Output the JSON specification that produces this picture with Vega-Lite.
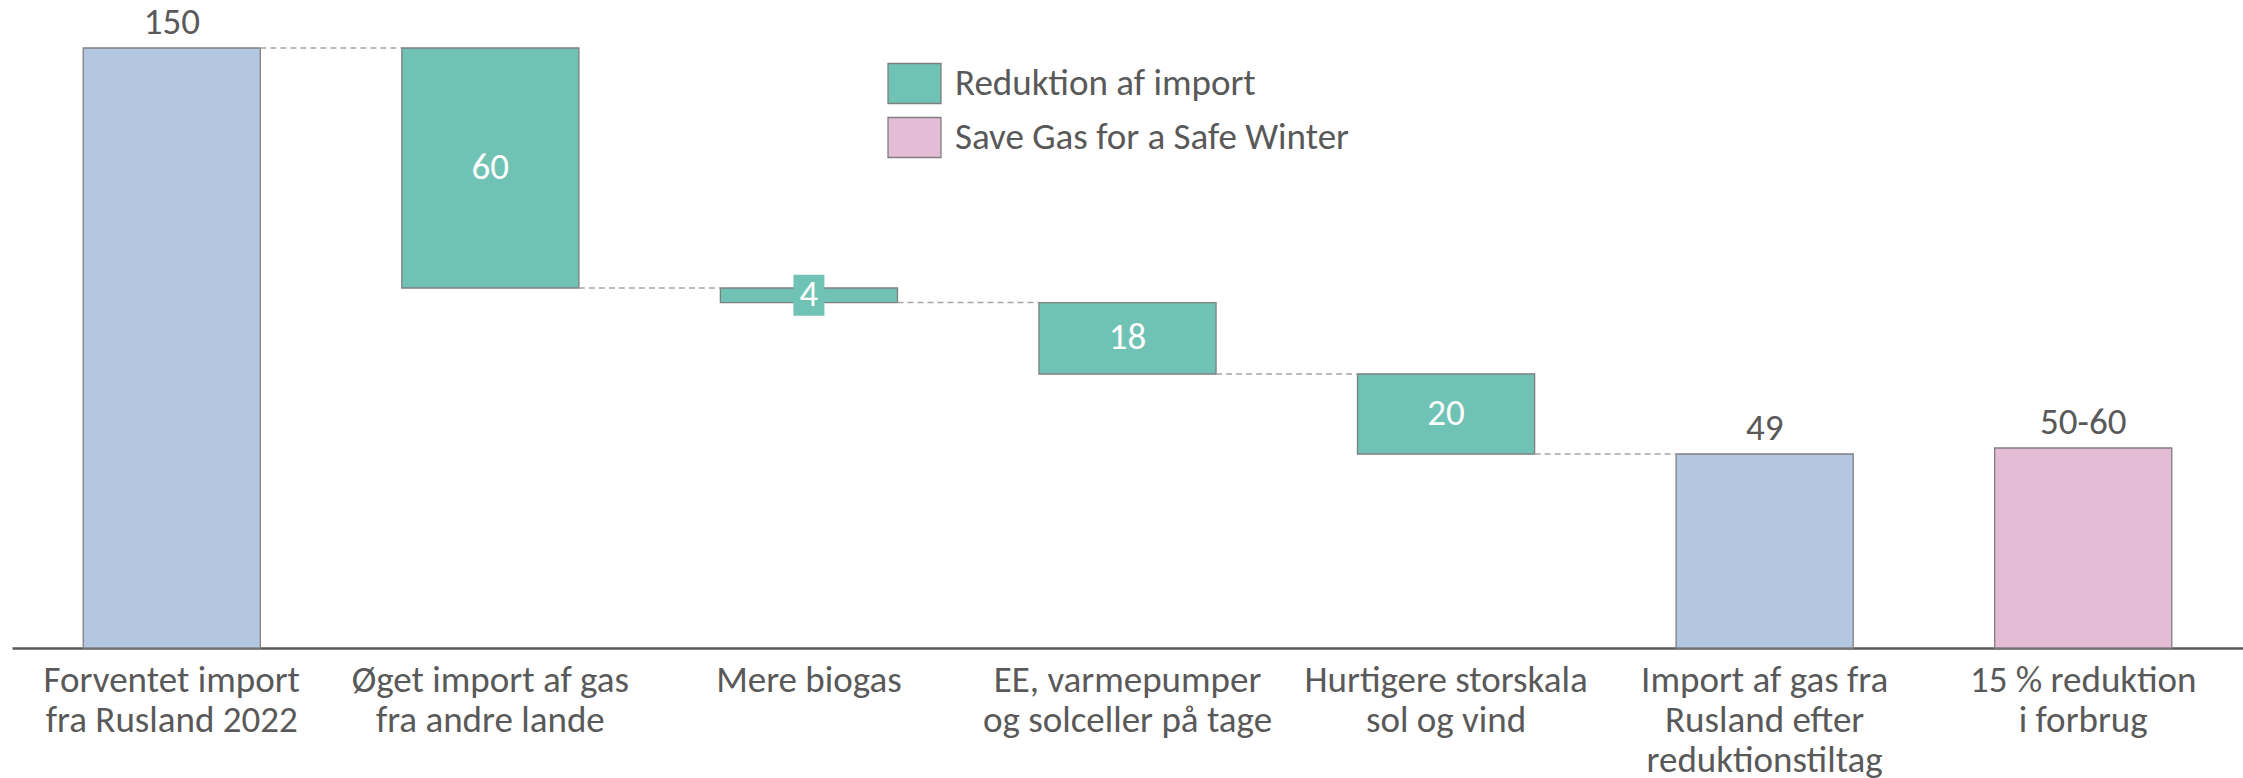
{
  "$schema": "https://vega.github.io/schema/vega-lite/v6.json",
  "autosize": "none",
  "width": 2231,
  "height": 600,
  "padding": {"left": 12, "top": 48, "right": 0, "bottom": 130},
  "background": "white",
  "config": {
    "view": {"stroke": null},
    "font": "Calibri, Carlito, Lato, sans-serif"
  },
  "data": {
    "values": [
      {"category": "Forventet import|fra Rusland 2022", "start": 0, "end": 150, "label": "150", "type": "Import fra Rusland", "next": "Øget import af gas|fra andre lande"},
      {"category": "Øget import af gas|fra andre lande", "start": 150, "end": 90, "label": "60", "type": "Reduktion af import", "next": "Mere biogas"},
      {"category": "Mere biogas", "start": 90, "end": 86.35, "label": "4", "type": "Reduktion af import", "next": "EE, varmepumper|og solceller på tage"},
      {"category": "EE, varmepumper|og solceller på tage", "start": 86.35, "end": 68.5, "label": "18", "type": "Reduktion af import", "next": "Hurtigere storskala|sol og vind"},
      {"category": "Hurtigere storskala|sol og vind", "start": 68.5, "end": 48.5, "label": "20", "type": "Reduktion af import", "next": "Import af gas fra|Rusland efter|reduktionstiltag"},
      {"category": "Import af gas fra|Rusland efter|reduktionstiltag", "start": 0, "end": 48.5, "label": "49", "type": "Import fra Rusland", "next": ""},
      {"category": "15 % reduktion|i forbrug", "start": 0, "end": 50, "label": "50-60", "type": "Save Gas for a Safe Winter", "next": ""}
    ]
  },
  "layer": [
    {
      "mark": {"type": "bar", "stroke": "#7F7F7F", "strokeWidth": 1.3},
      "encoding": {
        "x": {
          "field": "category",
          "type": "nominal",
          "sort": null,
          "scale": {"paddingInner": 0.444, "paddingOuter": 0.2235},
          "axis": {
            "title": null,
            "labelAngle": 0,
            "labelExpr": "split(datum.label, '|')",
            "labelFontSize": 37,
            "labelLineHeight": 40,
            "labelColor": "#595959",
            "labelPadding": 14,
            "labelBaseline": "top",
            "labelLimit": 400,
            "ticks": false,
            "domainColor": "#595959",
            "domainWidth": 2.5,
            "grid": false
          }
        },
        "y": {
          "field": "start",
          "type": "quantitative",
          "scale": {"domain": [0, 150], "nice": false, "zero": true},
          "axis": null
        },
        "y2": {"field": "end"},
        "color": {
          "field": "type",
          "type": "nominal",
          "scale": {
            "domain": ["Import fra Rusland", "Reduktion af import", "Save Gas for a Safe Winter"],
            "range": ["#B4C7E0", "#70C2B4", "#E4BCD6"]
          },
          "legend": {
            "values": ["Reduktion af import", "Save Gas for a Safe Winter"],
            "orient": "none",
            "legendX": 875,
            "legendY": 8,
            "title": null,
            "symbolType": "M-1,-0.755H1V0.755H-1Z",
            "symbolSize": 2809,
            "symbolStrokeColor": "#7F7F7F",
            "symbolStrokeWidth": 1.3,
            "symbolOpacity": 1,
            "labelFontSize": 37,
            "labelColor": "#595959",
            "labelOffset": 13,
            "labelLimit": 600,
            "rowPadding": 3
          }
        }
      }
    },
    {
      "transform": [{"filter": "datum.next != ''"}],
      "mark": {"type": "rule", "color": "#A6A6A6", "strokeWidth": 1.5, "strokeDash": [6, 4]},
      "encoding": {
        "x": {"field": "category", "type": "nominal", "sort": null, "bandPosition": 1},
        "x2": {"field": "next", "bandPosition": 0},
        "y": {"field": "end", "type": "quantitative"}
      }
    },
    {
      "transform": [{"filter": "datum.type != 'Reduktion af import'"}],
      "mark": {"type": "text", "baseline": "alphabetic", "dy": -14, "fontSize": 37, "color": "#595959"},
      "encoding": {
        "x": {"field": "category", "type": "nominal", "sort": null},
        "y": {"field": "end", "type": "quantitative"},
        "text": {"field": "label", "type": "nominal"}
      }
    },
    {
      "transform": [
        {"filter": "datum.label == '4'"},
        {"fold": ["start", "end"], "as": ["edge", "level"]},
        {"aggregate": [{"op": "mean", "field": "level", "as": "mid"}], "groupby": ["category", "label"]}
      ],
      "mark": {"type": "point", "filled": true, "shape": "M-0.756,-1H0.756V1H-0.756Z", "size": 1681, "color": "#70C2B4", "opacity": 1, "strokeWidth": 0},
      "encoding": {
        "x": {"field": "category", "type": "nominal", "sort": null},
        "y": {"field": "mid", "type": "quantitative"}
      }
    },
    {
      "transform": [
        {"filter": "datum.type == 'Reduktion af import'"},
        {"fold": ["start", "end"], "as": ["edge", "level"]},
        {"aggregate": [{"op": "mean", "field": "level", "as": "mid"}], "groupby": ["category", "label"]}
      ],
      "mark": {"type": "text", "baseline": "middle", "fontSize": 37, "color": "white"},
      "encoding": {
        "x": {"field": "category", "type": "nominal", "sort": null},
        "y": {"field": "mid", "type": "quantitative"},
        "text": {"field": "label", "type": "nominal"}
      }
    }
  ]
}
